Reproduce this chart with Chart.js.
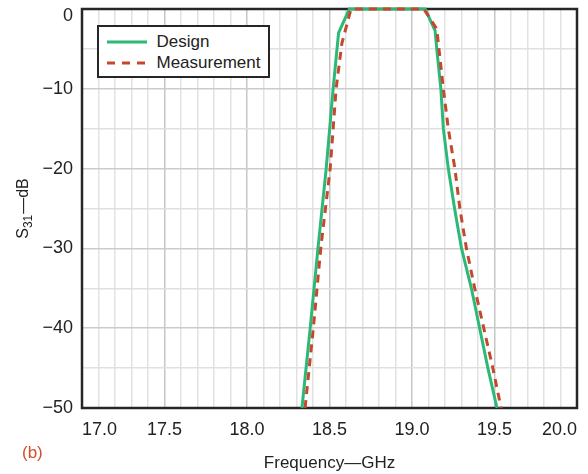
<!DOCTYPE html>
<html>
<head>
<meta charset="utf-8">
<script src="https://cdn.jsdelivr.net/npm/chart.js@4.4.1/dist/chart.umd.min.js"></script>
<style>
html,body{margin:0;padding:0;background:#fff;}
#wrap{position:relative;width:588px;height:474px;}
#legend{position:absolute;left:97px;top:25px;width:173px;height:53px;box-sizing:border-box;border:2.5px solid #262626;background:#fff;font:17px "Liberation Sans",Arial,sans-serif;color:#222;}
.ln{position:absolute;left:7.5px;width:40px;height:4px;}
.tx{position:absolute;left:57.5px;line-height:20px;height:20px;white-space:nowrap;}
</style>
</head>
<body>
<div id="wrap"><canvas id="c" width="588" height="474"></canvas><div id="legend"></div></div>
<script>
// ---- data ----
const designFreq = [18.333, 18.383, 18.430, 18.480, 18.522, 18.555, 18.620, 19.080, 19.140, 19.150, 19.175, 19.190, 19.220, 19.258, 19.300, 19.360, 19.410, 19.460, 19.515];
const designDb   = [-50, -40, -30, -20, -10, -3, 0, 0, -2.7, -5, -10, -15, -20, -25, -30, -35, -40, -45, -50];
const measFreq   = [18.352, 18.402, 18.447, 18.504, 18.540, 18.575, 18.630, 19.072, 19.150, 19.190, 19.220, 19.260, 19.290, 19.330, 19.380, 19.435, 19.490, 19.540];
const measDb     = [-50, -40, -30, -20, -10, -4.3, 0, 0, -2.5, -10, -15, -20, -25, -30, -35, -40, -45, -50];
const seriesNames = ['Design', 'Measurement'];
const xTickValues = [17.0, 17.5, 18.0, 18.5, 19.0, 19.5, 20.0];
const xTickLabels = ['17.0', '17.5', '18.0', '18.5', '19.0', '19.5', '20.0'];
const yTickValues = [0, -10, -20, -30, -40, -50];
const yTickLabels = ['0', '\u221210', '\u221220', '\u221230', '\u221240', '\u221250'];
const yTitleParts = ['S', '31', '\u2014dB'];
const xTitle = 'Frequency\u2014GHz';
const panelLabel = '(b)';
const xMinorStep = 0.1;
const yMinorStep = 5;

const FONT = '"Liberation Sans", Arial, sans-serif';
const GREEN = '#2cb878';
const RED = '#c4482c';

const xGrid = [];
for (let i = 0; i <= 30; i++) xGrid.push(+(17 + i * xMinorStep).toFixed(2));
const yGrid = [];
for (let v = -50; v <= 0; v += yMinorStep) yGrid.push(v);

const toPts = (xs, ys) => xs.map((x, i) => ({x: x, y: ys[i]}));

const frame = {
  id: 'frame',
  beforeDatasetsDraw(chart) {
    const {ctx, chartArea: a} = chart;
    ctx.save();
    ctx.strokeStyle = '#262626';
    ctx.lineWidth = 2.5;
    ctx.strokeRect(a.left, a.top, a.right - a.left, a.bottom - a.top);
    ctx.restore();
  },
  afterDraw(chart) {
    const {ctx, chartArea: a} = chart;
    ctx.save();
    ctx.font = '17px ' + FONT;
    ctx.fillStyle = '#d0502a';
    ctx.textBaseline = 'middle';
    ctx.textAlign = 'left';
    ctx.fillText(panelLabel, 22, 453);
    ctx.restore();
    // y-axis title with a real subscript
    ctx.save();
    ctx.fillStyle = '#222';
    ctx.textBaseline = 'alphabetic';
    ctx.textAlign = 'left';
    const big = '16px ' + FONT, small = '12px ' + FONT;
    ctx.font = big; const w0 = ctx.measureText(yTitleParts[0]).width;
    ctx.font = small; const w1 = ctx.measureText(yTitleParts[1]).width;
    ctx.font = big; const w2 = ctx.measureText(yTitleParts[2]).width;
    const total = w0 + w1 + 1 + w2;
    ctx.translate(28, (a.top + a.bottom) / 2);
    ctx.rotate(-Math.PI / 2);
    let x = -total / 2;
    ctx.font = big; ctx.fillText(yTitleParts[0], x, 0); x += w0;
    ctx.font = small; ctx.fillText(yTitleParts[1], x, 4); x += w1 + 1;
    ctx.font = big; ctx.fillText(yTitleParts[2], x, 0);
    ctx.restore();
  }
};

const chart = new Chart(document.getElementById('c'), {
  type: 'line',
  data: {
    datasets: [
      {label: seriesNames[0], data: toPts(designFreq, designDb), borderColor: GREEN, borderWidth: 3,
       pointRadius: 0, tension: 0, fill: false, clip: false, order: 1},
      {label: seriesNames[1], data: toPts(measFreq, measDb), borderColor: RED, borderWidth: 3,
       borderDash: [8, 6], pointRadius: 0, tension: 0, fill: false, clip: false, order: 0}
    ]
  },
  options: {
    responsive: false,
    animation: false,
    devicePixelRatio: 1,
    layout: {padding: {top: 9, right: 11, bottom: 0, left: 0}},
    plugins: {legend: {display: false}, tooltip: {enabled: false}},
    scales: {
      x: {
        type: 'linear', min: 17, max: 20,
        afterBuildTicks: s => { s.ticks = xGrid.map(v => ({value: v})); },
        ticks: {
          autoSkip: false, maxRotation: 0, minRotation: 0, align: 'inner', padding: 11,
          color: '#222', font: {family: FONT, size: 18},
          callback: (v) => { const k = xTickValues.findIndex(t => Math.abs(t - v) < 1e-6); return k < 0 ? '' : xTickLabels[k]; }
        },
        grid: {drawTicks: false, lineWidth: 1.5,
          color: c => (c.tick && xTickValues.some(t => Math.abs(t - c.tick.value) < 1e-6)) ? '#c6c6c6' : '#e2e2e2'},
        border: {display: false},
        title: {display: true, text: xTitle, color: '#222', font: {family: FONT, size: 17}, padding: {top: 0, bottom: 0}},
        afterFit: s => { s.height = 474 - 408; s.paddingLeft = 0; s.paddingRight = 0; }
      },
      y: {
        type: 'linear', min: -50, max: 0,
        afterBuildTicks: s => { s.ticks = yGrid.map(v => ({value: v})); },
        ticks: {
          autoSkip: false, padding: 9, color: '#222', font: {family: FONT, size: 18, lineHeight: 0.8},
          callback: (v) => { const k = yTickValues.indexOf(v); if (k < 0) return ''; return v === 0 ? ['', yTickLabels[k]] : yTickLabels[k]; }
        },
        grid: {drawTicks: false, lineWidth: 1.5,
          color: c => (c.tick && yTickValues.indexOf(c.tick.value) >= 0) ? '#cbcbcb' : '#e0e0e0'},
        border: {display: false},
        title: {display: false},
        afterFit: s => { s.width = 82; s.paddingTop = 0; s.paddingBottom = 0; }
      }
    }
  },
  plugins: [frame]
});

// HTML legend built from the datasets
const lg = document.getElementById('legend');
chart.data.datasets.forEach((ds, i) => {
  const cy = i === 0 ? 14.5 : 35.5;
  const dash = ds.borderDash ? ' stroke-dasharray="8,7"' : '';
  lg.insertAdjacentHTML('beforeend',
    '<svg class="ln" style="top:' + (cy - 2) + 'px" width="40" height="4"><line x1="0" y1="2" x2="40" y2="2" stroke="' + ds.borderColor + '" stroke-width="3"' + dash + '/></svg>' +
    '<div class="tx" style="top:' + (cy - 10) + 'px">' + ds.label + '</div>');
});
</script>
</body>
</html>
